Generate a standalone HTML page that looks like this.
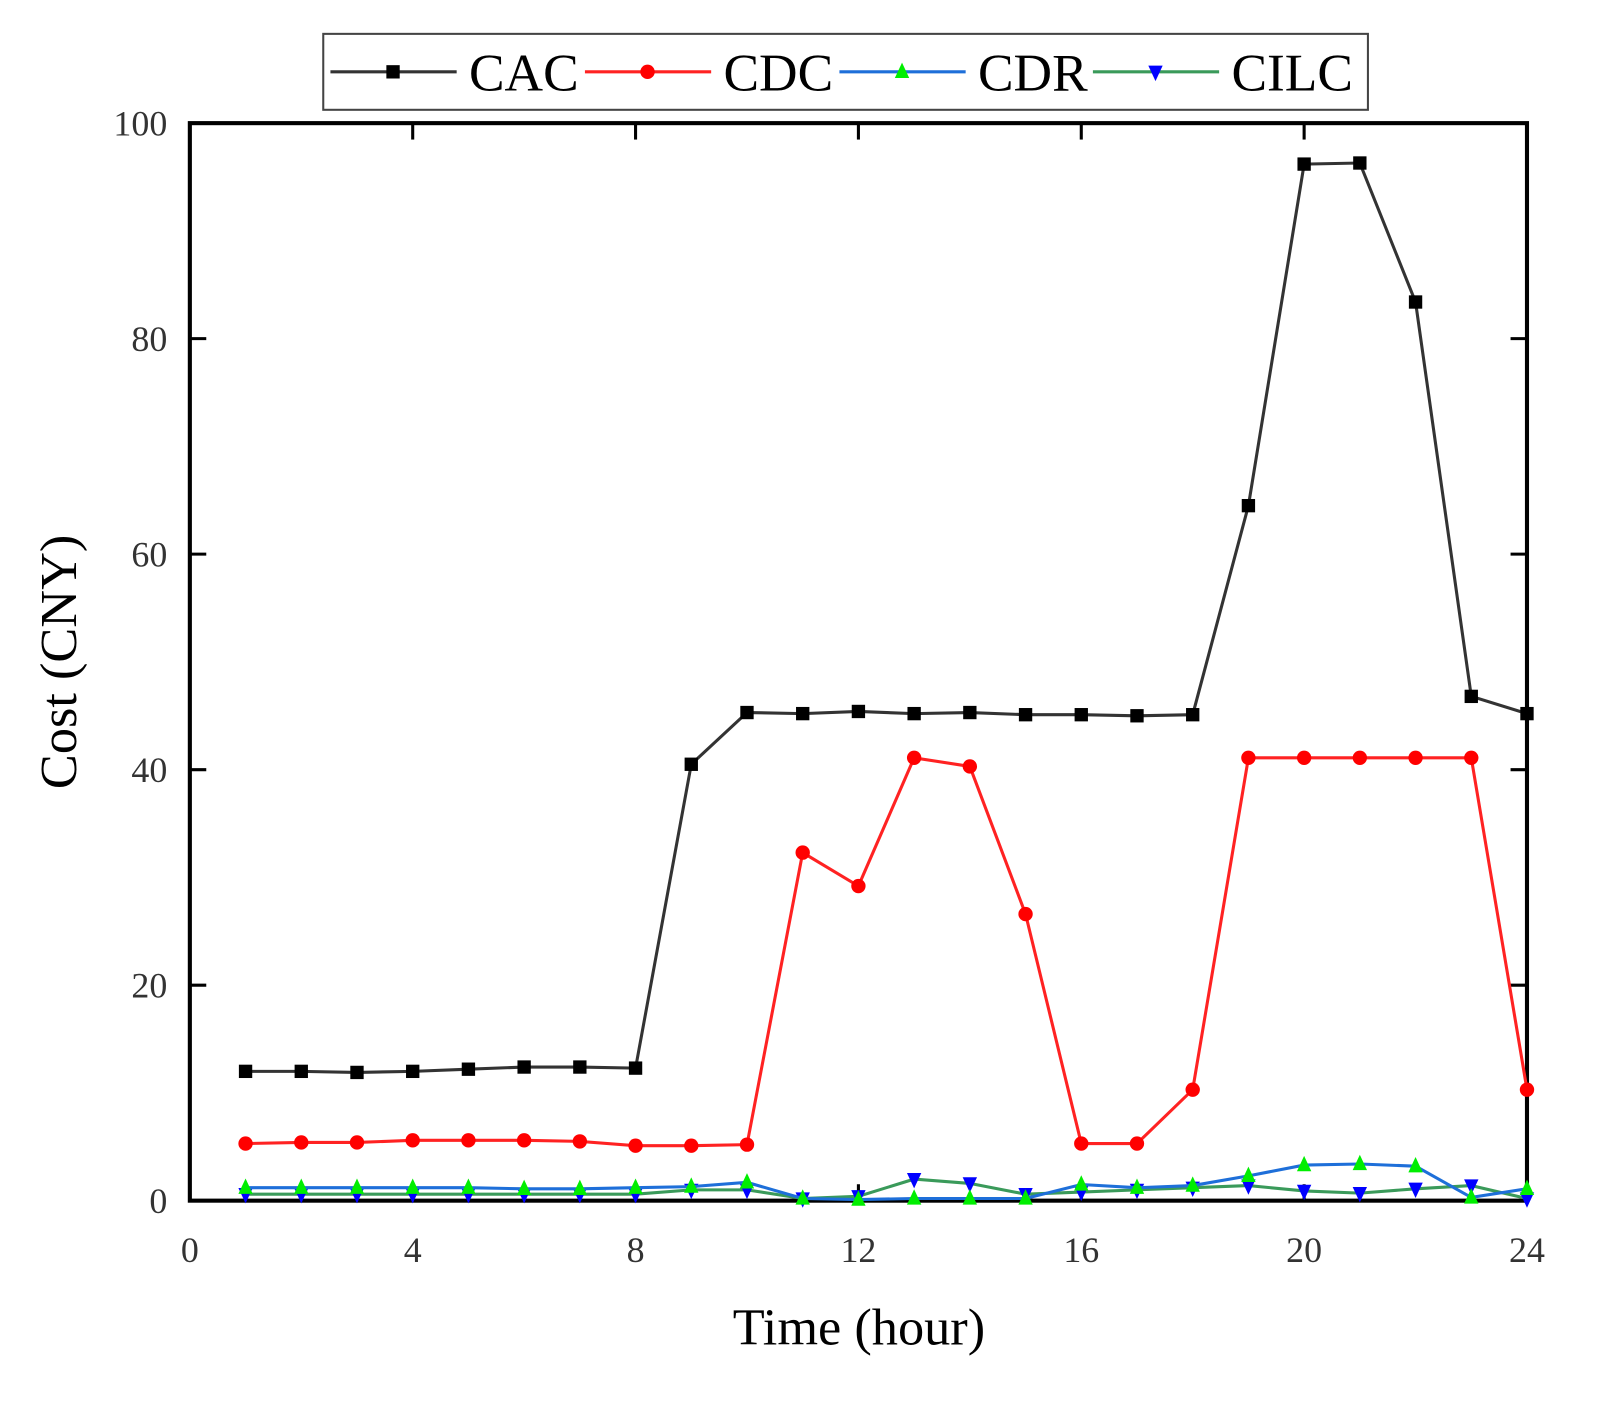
<!DOCTYPE html>
<html><head><meta charset="utf-8"><style>
html,body{margin:0;padding:0;background:#fff}
svg{display:block}
text{font-family:"Liberation Serif",serif}
</style></head><body>
<svg id="chart" width="1608" height="1408" viewBox="0 0 1608 1408">
<g id="plot" transform="scale(1.0262)"></g>
</svg>
<script>
const hours=[1,2,3,4,5,6,7,8,9,10,11,12,13,14,15,16,17,18,19,20,21,22,23,24];
const cac=[12,12,11.9,12,12.2,12.4,12.4,12.3,40.5,45.3,45.2,45.4,45.2,45.3,45.1,45.1,45,45.1,64.5,96.2,96.3,83.4,46.8,45.2];
const cdc=[5.3,5.4,5.4,5.6,5.6,5.6,5.5,5.1,5.1,5.2,32.3,29.2,41.1,40.3,26.6,5.3,5.3,10.3,41.1,41.1,41.1,41.1,41.1,10.3];
const cdr=[1.2,1.2,1.2,1.2,1.2,1.1,1.1,1.2,1.3,1.7,0.2,0.1,0.2,0.2,0.2,1.5,1.2,1.4,2.3,3.3,3.4,3.2,0.3,1.1];
const cilc=[0.6,0.6,0.6,0.6,0.6,0.6,0.6,0.6,1,1,0.2,0.4,2,1.6,0.6,0.8,1,1.2,1.4,0.9,0.7,1.1,1.4,0.2];
const xTicks=[0,4,8,12,16,20,24];
const yTicks=[0,20,40,60,80,100];
const L=185,R=1488,T=120,B=1170;
const X=v=>L+(v/24)*(R-L);
const Y=v=>B-(v/100)*(B-T);
const NS='http://www.w3.org/2000/svg';
const g=document.getElementById('plot');
function mk(tag,attrs,parent){const e=document.createElementNS(NS,tag);for(const k in attrs)e.setAttribute(k,attrs[k]);(parent||g).appendChild(e);return e;}
let f=mk('rect',{x:L,y:T,width:R-L,height:B-T,fill:'none',stroke:'#000','stroke-width':4});


xTicks.forEach(t=>{
  let a=mk('line',{x1:X(t),x2:X(t),y1:B,y2:B-16,stroke:'#000','stroke-width':3});
  
  
  let b=mk('line',{x1:X(t),x2:X(t),y1:T,y2:T+16,stroke:'#000','stroke-width':3});
  
  
  let tx=mk('text',{x:X(t),y:B+60,'text-anchor':'middle','font-size':35,fill:'#333'});
  tx.textContent=t;
  
  
});
yTicks.forEach(t=>{
  let a=mk('line',{x1:L,x2:L+16,y1:Y(t),y2:Y(t),stroke:'#000','stroke-width':3});
  
  
  let b=mk('line',{x1:R,x2:R-16,y1:Y(t),y2:Y(t),stroke:'#000','stroke-width':3});
  
  
  let tx=mk('text',{x:L-22,y:Y(t)+12,'text-anchor':'end','font-size':35,fill:'#333'});
  tx.textContent=t;
  
  
});
function marker(type,x,y,color,parent){
  if(type==='sq') return mk('rect',{x:x-6.5,y:y-6.5,width:13,height:13,fill:color},parent);
  if(type==='ci') return mk('circle',{cx:x,cy:y,r:7,fill:color},parent);
  if(type==='up') return mk('polygon',{points:`${x},${y-9} ${x-7},${y+6} ${x+7},${y+6}`,fill:color},parent);
  return mk('polygon',{points:`${x},${y+9} ${x-7},${y-6} ${x+7},${y-6}`,fill:color},parent);
}
const series=[
 {name:'CAC',vals:cac,line:'#333',m:'sq',mc:'#000'},
 {name:'CDC',vals:cdc,line:'#f22',m:'ci',mc:'#f00'},
 {name:'CDR',vals:cdr,line:'#1e6fd9',m:'up',mc:'#0e0'},
 {name:'CILC',vals:cilc,line:'#3a9a5a',m:'dn',mc:'#00f'}
];
series.slice().reverse().forEach(s=>{
  const sg=mk('g',{});
  
  
  const pts=hours.map((h,i)=>X(h)+','+Y(s.vals[i])).join(' ');
  let pl=mk('polyline',{points:pts,fill:'none',stroke:s.line,'stroke-width':3},sg);
  
  
  hours.forEach((h,i)=>{
    let m=marker(s.m,X(h),Y(s.vals[i]),s.mc,sg);
    
    
  });
});
const lg=mk('g',{});


mk('rect',{x:315,y:33,width:1018,height:74,fill:'#fff',stroke:'#444','stroke-width':2},lg);
const lx=[322,570,818,1065];
series.forEach((s,i)=>{
  const eg=mk('g',{},lg);
  
  
  mk('line',{x1:lx[i],x2:lx[i]+123,y1:70,y2:70,stroke:s.line,'stroke-width':3},eg);
  marker(s.m,lx[i]+61,70,s.mc,eg);
  const t=mk('text',{x:lx[i]+135,y:88,'font-size':52,fill:'#000'},eg);
  t.textContent=s.name;
});
let xt=mk('text',{x:837,y:1310,'text-anchor':'middle','font-size':51});
xt.textContent='Time (hour)';


let yt=mk('text',{x:0,y:0,'text-anchor':'middle','font-size':51,transform:'translate(74,645) rotate(-90)'});
yt.textContent='Cost (CNY)';


</script>
</body></html>
